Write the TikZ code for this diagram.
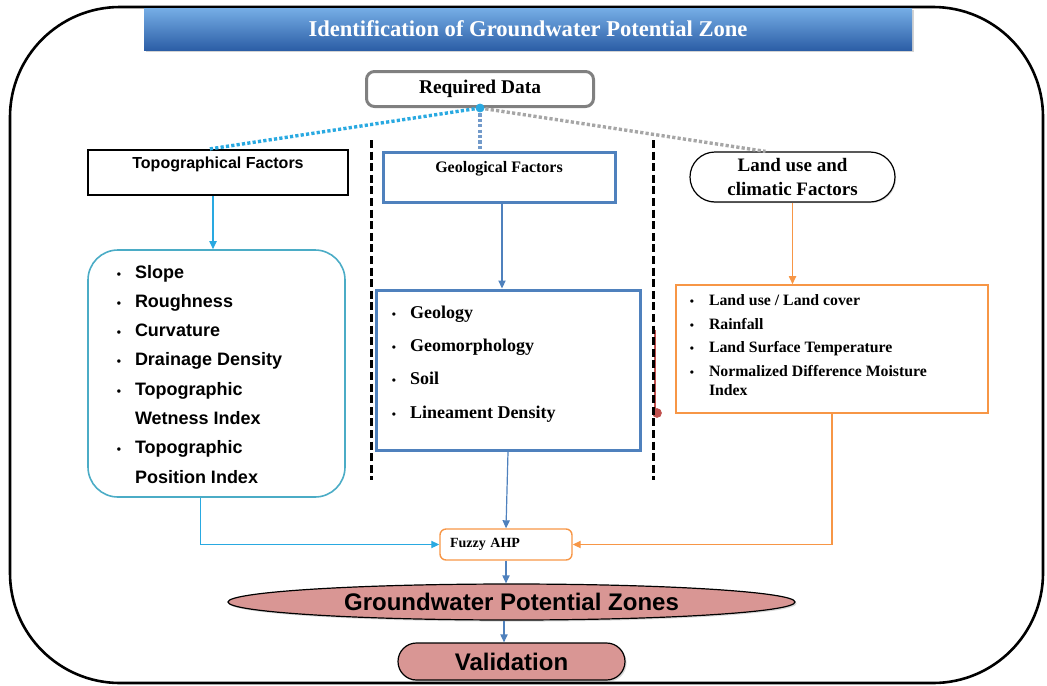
\documentclass[tikz,border=0pt]{standalone}
\usepackage{fontspec}
\setmainfont{Liberation Serif}
\setsansfont{Liberation Sans}
\usepackage{tikz}
\usetikzlibrary{positioning,shapes.geometric,shapes.misc,shadows,arrows.meta}
\usepackage{xcolor}

\definecolor{banlight}{HTML}{76AEE6}
\definecolor{bandark}{HTML}{2C5EA6}
\definecolor{skyline}{HTML}{29A9E1}
\definecolor{topoedge}{HTML}{4BACC6}
\definecolor{geoblue}{HTML}{4F81BD}
\definecolor{landorange}{HTML}{F79646}
\definecolor{zonepink}{HTML}{D99694}
\definecolor{dotgrey}{HTML}{A6A6A6}
\definecolor{markred}{HTML}{C0504D}

\newcommand{\bul}[2]{\par\noindent\llap{{\fontsize{6}{6}\selectfont\textbullet}\hspace{#1}}#2}
\newcommand{\factorlist}[5]{\begin{minipage}[c][#2][t]{#1}\leftskip=#4\parindent=0pt\vspace*{#3}#5\end{minipage}}

\begin{document}
\begin{tikzpicture}[x=0.5pt,y=-0.5pt,
  arr/.style={-{Triangle[length=4pt,width=3.6pt]},line width=0.6pt},
  dots/.style={line width=1.7pt,dash pattern=on 1.6pt off 1.1pt},
  sepline/.style={line width=1.5pt,dash pattern=on 4pt off 1.8pt},
  banner/.style={rectangle,top color=banlight,bottom color=bandark,minimum width=384pt,minimum height=21pt,
    drop shadow={opacity=0.35,shadow xshift=1pt,shadow yshift=-1pt},text=white,
    font=\fontsize{11.3}{13}\selectfont\bfseries},
  zone/.style={draw,fill=zonepink,line width=0.6pt,inner sep=0pt,
    drop shadow={opacity=0.3,shadow xshift=0.8pt,shadow yshift=-0.8pt},
    font=\fontsize{12}{14}\selectfont\sffamily\bfseries}]

\useasboundingbox (0,0) rectangle (1047,685);
\draw[line width=1.3pt,rounded corners=55pt] (10,7) rectangle (1043,683);

\node[banner] (title) at (528,29) {Identification of Groundwater Potential Zone};

\node[draw=gray,line width=1.5pt,rounded corners=4pt,minimum width=113.5pt,minimum height=17.5pt,
  font=\fontsize{9.7}{12}\selectfont\bfseries] (req) at (480,89) {Required Data};

\node[draw,line width=0.8pt,minimum width=130pt,inner sep=0pt,text height=9pt,text depth=13.5pt,
  font=\fontsize{8}{10}\selectfont\sffamily\bfseries] (topo) at (218,172.5) {Topographical Factors};
\node[draw=geoblue,line width=1.5pt,minimum width=116pt,inner sep=0pt,text height=10pt,text depth=15pt,
  font=\fontsize{8}{10}\selectfont\bfseries] (geo) at (499,177) {Geological Factors};
\node[draw,rounded rectangle,line width=0.6pt,minimum width=104.5pt,minimum height=25pt,inner sep=1pt,align=center,
  drop shadow={opacity=0.25,shadow xshift=0.6pt,shadow yshift=-0.6pt},fill=white,
  font=\fontsize{9.5}{12}\selectfont\bfseries] (land) at (792.5,177) {Land use and\\climatic Factors};

\draw[markred,line width=0.7pt] (655,330) -- (655,413);
\filldraw[markred] (657,413) circle (2.2pt);
\draw[sepline] (371,140) -- (371,480);
\draw[sepline] (653,140) -- (653,480);

\node[draw=topoedge,line width=0.8pt,rounded corners=15pt,inner sep=0pt] (tlist) at (216.5,373.5)
  {\factorlist{128.5pt}{123.5pt}{7.5pt}{23.5pt}{\fontsize{9}{14.65}\selectfont\sffamily\bfseries
   \bul{7pt}{Slope}\bul{7pt}{Roughness}\bul{7pt}{Curvature}\bul{7pt}{Drainage Density}
   \bul{7pt}{Topographic}\par Wetness Index\bul{7pt}{Topographic}\par Position Index}};
\node[draw=geoblue,line width=1.5pt,inner sep=0pt] (glist) at (508,370)
  {\factorlist{132pt}{80pt}{7.8pt}{17pt}{\fontsize{9}{16.7}\selectfont\bfseries
   \bul{7pt}{Geology}\bul{7pt}{Geomorphology}\bul{7pt}{Soil}\bul{7pt}{Lineament Density}}};
\node[draw=landorange,line width=0.8pt,inner sep=0pt] (llist) at (832,349)
  {\factorlist{156pt}{64pt}{4.8pt}{16.5pt}{\fontsize{7.9}{11.8}\selectfont\bfseries
   \bul{7.5pt}{Land use / Land cover}\bul{7.5pt}{Rainfall}\bul{7.5pt}{Land Surface Temperature}
   \bul{7.5pt}{Normalized Difference Moisture\\[-2.3pt]Index}}};

\node[draw=landorange,line width=0.7pt,rounded corners=3pt,text width=56pt,align=left,inner xsep=5pt,
  minimum height=15.5pt,font=\fontsize{7}{8}\selectfont\bfseries] (fuzzy) at (506,544.5) {Fuzzy AHP};
\node[zone,ellipse,minimum width=283.5pt,minimum height=18pt] (gpz) at (511.5,602) {Groundwater Potential Zones};
\node[zone,rounded rectangle,minimum width=113.5pt,minimum height=18.5pt] (valid) at (511.5,661.5) {Validation};

\draw[dots,skyline] (req.south) -- ([xshift=-5pt]topo.north);
\draw[dots,geoblue!80] (req.south) -- (req.south |- geo.north);
\draw[dots,dotgrey] (req.south) -- ([xshift=-13.5pt]land.north);
\filldraw[skyline] (req.south) circle (2pt);

\draw[arr,skyline] ([xshift=-2.5pt]topo.south) -- ([xshift=-2.5pt]topo.south |- tlist.north);
\draw[arr,geoblue] ([xshift=1.5pt]geo.south) -- ([xshift=1.5pt]geo.south |- glist.north);
\draw[arr,landorange] (land.south) -- (land.south |- llist.north);

\draw[arr,skyline] ([xshift=-8pt]tlist.south) |- (fuzzy.west);
\draw[arr,geoblue] (glist.south) -- (fuzzy.north);
\draw[arr,landorange] (llist.south) |- (fuzzy.east);
\draw[arr,geoblue] (fuzzy.south) -- (fuzzy.south |- gpz.north);
\draw[arr,geoblue] ([xshift=-1pt]fuzzy.south |- gpz.south) -- ([xshift=-1pt]fuzzy.south |- valid.north);

\end{tikzpicture}
\end{document}
